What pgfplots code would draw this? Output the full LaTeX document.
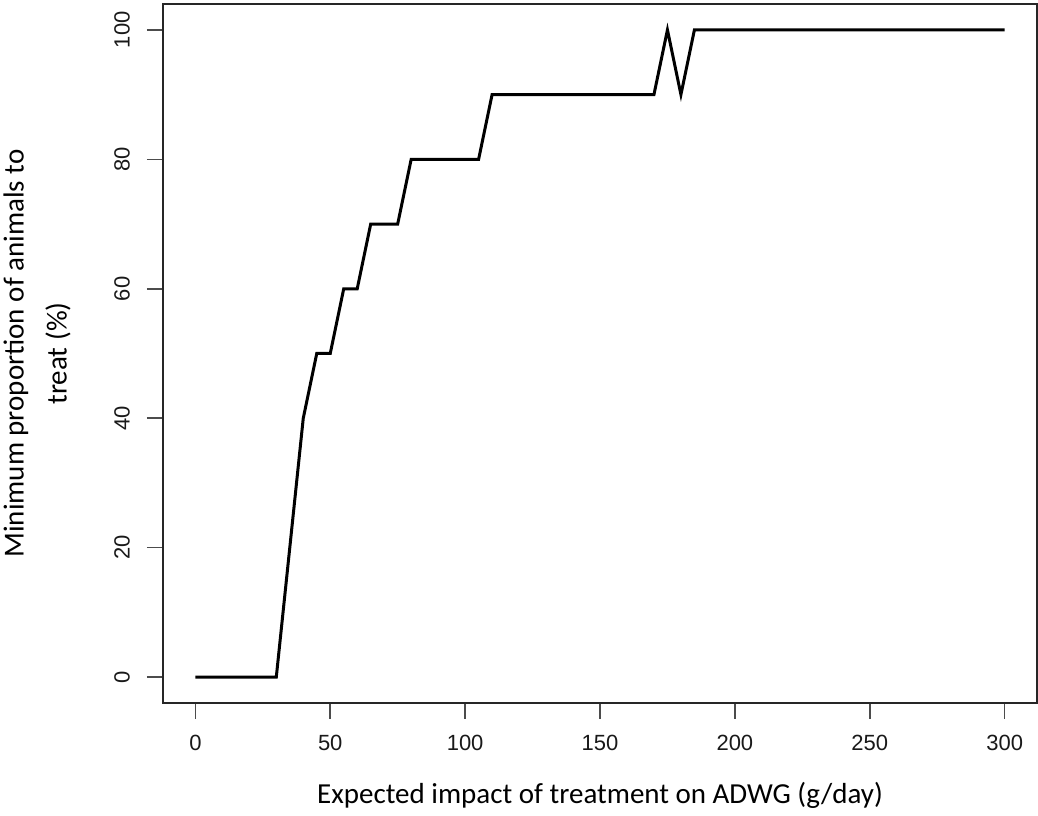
\documentclass[border=0pt]{standalone}
\usepackage{fontspec}
\setmainfont{Liberation Sans}
\newfontfamily\calibri{Carlito}
\usepackage{pgfplots}
\pgfplotsset{compat=1.18}

\begin{document}
\begin{tikzpicture}
\begin{axis}[
    scale only axis,
    width=437pt,
    height=349.5pt,
    xmin=-12, xmax=312,
    ymin=-4, ymax=104,
    xtick={0,50,100,150,200,250,300},
    ytick={0,20,40,60,80,100},
    tick align=outside,
    major tick length=8pt,
    axis line style={black!85, line width=0.75pt},
    tick style={black!70, line width=0.75pt},
    xtick pos=bottom,
    ytick pos=left,
    /pgf/number format/assume math mode=true,
    ticklabel style={font=\fontsize{11}{13}\selectfont, text=black!90},
    xticklabel style={anchor=center, yshift=-12pt},
    yticklabel style={rotate=90, anchor=center, yshift=12.5pt},
    xlabel={Expected impact of treatment on ADWG (g/day)},
    xlabel style={font=\calibri\fontsize{14.5}{17}\selectfont,
        at={(axis description cs:0.5,0)}, anchor=center, yshift=-46pt},
    ylabel={Minimum proportion of animals to\\treat (\%)},
    ylabel style={font=\calibri\fontsize{14.5}{21.5}\selectfont, align=center,
        at={(axis description cs:0,0.5)}, anchor=center, yshift=63pt},
]
% minimum share of animals to treat, read every 5 g/day
\addplot[black, line width=1.5pt, line join=miter] coordinates {
    (0,0) (5,0) (10,0) (15,0) (20,0) (25,0) (30,0)
    (35,20) (40,40) (45,50) (50,50) (55,60) (60,60)
    (65,70) (70,70) (75,70) (80,80) (85,80) (90,80)
    (95,80) (100,80) (105,80) (110,90) (115,90) (120,90)
    (125,90) (130,90) (135,90) (140,90) (145,90) (150,90)
    (155,90) (160,90) (165,90) (170,90) (175,100) (180,90)
    (185,100) (190,100) (200,100) (210,100) (220,100) (230,100)
    (240,100) (250,100) (260,100) (270,100) (280,100) (290,100)
    (300,100)
};
\end{axis}
\pgfresetboundingbox
\path ([shift={(-81.5pt,-56.5pt)}]current axis.south west)
    rectangle ([shift={(0.5pt,2pt)}]current axis.north east);
\end{tikzpicture}
\end{document}
